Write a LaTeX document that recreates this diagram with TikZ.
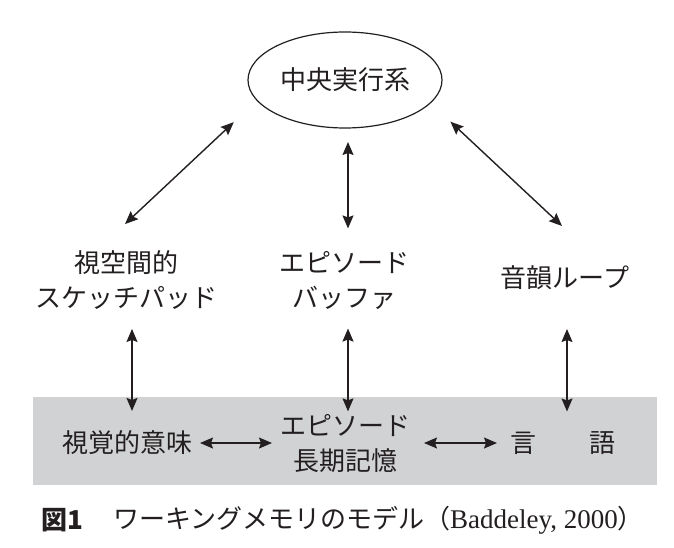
\documentclass[tikz,border=0pt]{standalone}
\usepackage{fontspec}
\newfontfamily\cjk{Noto Sans CJK JP}
\newfontfamily\lat{Liberation Serif}
\usetikzlibrary{arrows.meta,shapes.geometric}

\begin{document}
\begin{tikzpicture}[x=1pt,y=1pt,
  lbl/.style={text=drawColor,inner sep=0pt,outer sep=0pt,align=center,font=\cjk\fontsize{26}{35}\selectfont},
  dbl/.style={draw=drawColor,line width=1.4pt,{Stealth[length=13pt,width=11pt,inset=2pt]}-{Stealth[length=13pt,width=11pt,inset=2pt]}}]
\definecolor{drawColor}{RGB}{35,31,32}
\definecolor{fillColor}{RGB}{209,210,212}
\path[use as bounding box,fill=white] (0,0) rectangle (674,547);

\path[fill=fillColor] (33,62) rectangle (657,150);

\node[lbl,draw=drawColor,line width=1.2pt,ellipse,minimum width=194pt,minimum height=96pt] (ce) at (345,467) {中央実行系};

\node[lbl] (vs) at (126,266.5) {視空間的\\スケッチパッド};

\node[lbl] (eb) at (344,266.5) {エピソード\\バッファ};

\node[lbl] (pl) at (565,269) {音韻ループ};

\node[lbl] (vm) at (127,104) {視覚的意味};

\node[lbl] (el) at (345,103) {エピソード\\長期記憶};

\node[lbl] (ln) at (563,104) {言\hspace{54pt}語};

\draw[dbl,shorten <=32pt] (ce.193) -- ([xshift=-1pt,yshift=27pt]vs.north);
\draw[dbl,shorten <=14pt,shorten >=23pt] ([xshift=3pt]ce.south) -- ([xshift=4pt]eb.north);
\draw[dbl,shorten <=27.6pt] (ce.345) -- ([xshift=-3pt,yshift=40pt]pl.north);

\draw[dbl,shorten <=19pt,shorten >=20pt] ([xshift=6pt]vs.south) -- ([xshift=5pt]vm.north);
\draw[dbl,shorten <=19pt,shorten >=3.5pt] ([xshift=4pt]eb.south) -- ([xshift=3pt]el.north);
\draw[dbl,shorten <=39pt,shorten >=20pt] ([xshift=2pt]pl.south) -- ([xshift=4pt]ln.north);

\draw[dbl,shorten <=8pt,shorten >=8pt] (vm.east) -- (vm.east -| el.west);
\draw[dbl,shorten <=14pt,shorten >=13pt] (el.east |- ln.west) -- (ln.west);

\node[text=drawColor,anchor=west,inner sep=0pt,outer sep=0pt,font=\cjk\bfseries\fontsize{26}{30}\selectfont] (fig) at (41,27) {図1};

\node[text=drawColor,anchor=west,inner sep=0pt,outer sep=0pt,font=\cjk\fontsize{26}{30}\selectfont] (cap) at (113,27) {ワーキングメモリのモデル（{\lat\fontsize{27}{30}\selectfont Baddeley, 2000}）};
\end{tikzpicture}
\end{document}
